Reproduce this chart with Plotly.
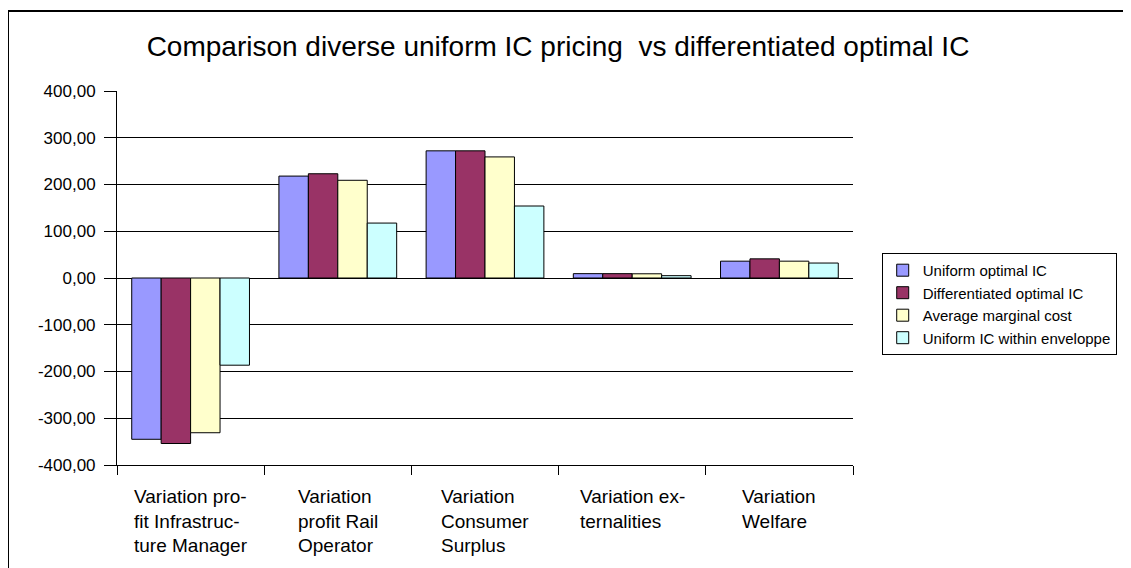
import plotly.graph_objects as go

categories = ["Variation profit Infrastructure Manager", "Variation profit Rail Operator",
              "Variation Consumer Surplus", "Variation externalities", "Variation Welfare"]
tick_labels = ["Variation pro-<br>fit Infrastruc-<br>ture Manager",
               "Variation<br>profit Rail<br>Operator",
               "Variation<br>Consumer<br>Surplus",
               "Variation ex-<br>ternalities",
               "Variation<br>Welfare"]

series_names = ["Uniform optimal IC", "Differentiated optimal IC",
                "Average marginal cost", "Uniform IC within enveloppe"]
uniform_optimal = [-345, 218, 272, 9.3, 36]
differentiated_optimal = [-354, 223, 272, 9.3, 41]
average_marginal_cost = [-331, 209, 259, 9.0, 36]
uniform_within_enveloppe = [-186.5, 117.5, 154, 5.0, 32]
series_values = [uniform_optimal, differentiated_optimal, average_marginal_cost, uniform_within_enveloppe]
colors = ["#9999FF", "#993366", "#FFFFCC", "#CCFFFF"]

y_ticks = [-400, -300, -200, -100, 0, 100, 200, 300, 400]
y_tick_labels = ["-400,00", "-300,00", "-200,00", "-100,00", "0,00",
                 "100,00", "200,00", "300,00", "400,00"]

FONT = "Liberation Sans, Arial, sans-serif"

fig = go.Figure()
for name, vals, col in zip(series_names, series_values, colors):
    fig.add_trace(go.Bar(
        x=categories, y=vals, name=name,
        marker=dict(color=col, line=dict(color="black", width=1)),
    ))

for cat, lab in zip(categories, tick_labels):
    fig.add_annotation(
        x=cat, xref="x", y=-0.052, yref="paper", text=lab, showarrow=False,
        xanchor="center", yanchor="top", align="left",
        font=dict(family=FONT, size=19, color="black"),
    )

fig.add_shape(type="rect", xref="paper", yref="paper",
              x0=-0.1481, x1=1.45, y0=-0.35, y1=1.2139,
              line=dict(color="black", width=2), fillcolor="rgba(0,0,0,0)", layer="below")

# the page adds an 8px body margin, so the figure is laid out 8px up/left
fig.update_layout(
    width=1131, height=568,
    margin=dict(l=109, r=286, t=83, b=111),
    paper_bgcolor="white", plot_bgcolor="white",
    barmode="group", bargap=0.2, bargroupgap=0,
    font=dict(family=FONT, color="black"),
    title=dict(text="Comparison diverse uniform IC pricing  vs differentiated optimal IC",
               xref="container", x=550 / 1131, xanchor="center",
               yref="container", y=1 - 38 / 568, yanchor="middle",
               font=dict(family=FONT, size=28, color="black")),
    legend=dict(x=1.039, y=0.567, xanchor="left", yanchor="top",
                bgcolor="white", bordercolor="black", borderwidth=1,
                font=dict(family=FONT, size=15, color="black"), traceorder="normal"),
    xaxis=dict(type="category", showticklabels=False, showgrid=False,
               showline=True, linecolor="black", linewidth=1,
               ticks="outside", tickson="boundaries", ticklen=9, tickcolor="black",
               zeroline=False),
    yaxis=dict(range=[-400, 400], tickvals=y_ticks, ticktext=y_tick_labels,
               showgrid=True, gridcolor="black", gridwidth=1,
               zeroline=True, zerolinecolor="black", zerolinewidth=1,
               showline=True, linecolor="black", linewidth=1,
               ticks="outside", ticklen=12, tickcolor="black", ticklabelstandoff=5,
               tickfont=dict(family=FONT, size=17, color="black")),
)

fig.write_html("out.html")
